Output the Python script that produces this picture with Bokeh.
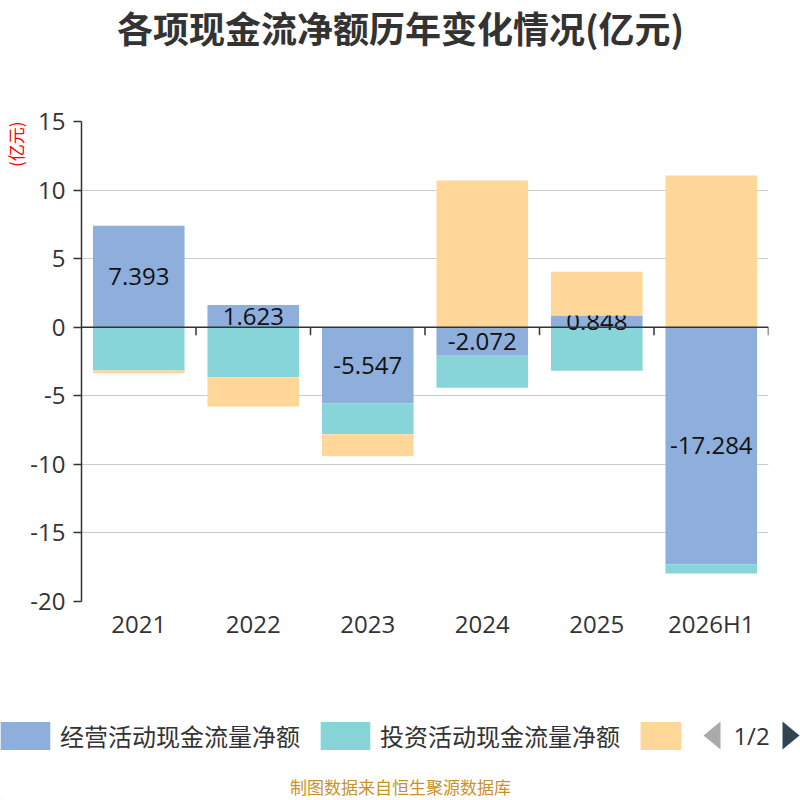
from bokeh.plotting import figure
from bokeh.models import (Range1d, FixedTicker, Label, Span, Legend, LegendItem,
                          ColumnDataSource, Title)
from bokeh.layouts import column
from bokeh.core.properties import value
from bokeh.embed import file_html
from bokeh.resources import INLINE

# ---------------- data ----------------
categories = ["2021", "2022", "2023", "2024", "2025", "2026H1"]
operating = [7.393, 1.623, -5.547, -2.072, 0.848, -17.284]
investing = [-3.16, -3.65, -2.25, -2.34, -3.18, -0.68]
financing = [-0.20, -2.14, -1.62, 10.69, 3.20, 11.06]
series_names = ["经营活动现金流量净额", "投资活动现金流量净额", ""]
y_ticks = [-20, -15, -10, -5, 0, 5, 10, 15]
title_text = "各项现金流净额历年变化情况(亿元)"
unit_text = "(亿元)"
source_text = "制图数据来自恒生聚源数据库"
page_text = "1/2"

colors = ["#8eaedb", "#87d5d8", "#ffd899"]
FONT = "Noto Sans CJK SC"
NUMFONT = "Open Sans"
W = 800
TOP_H, MAIN_H, BOT_H = 60, 630, 110


def blank(h):
    f = figure(width=W, height=h, output_backend="svg", toolbar_location=None,
               x_range=Range1d(0, W), y_range=Range1d(0, h),
               x_axis_type=None, y_axis_type=None, frame_align=False,
               min_border=0, min_border_left=0, min_border_right=0,
               min_border_top=0, min_border_bottom=0)
    f.outline_line_color = None
    f.xgrid.grid_line_color = None
    f.ygrid.grid_line_color = None
    return f


# ---------------- title strip ----------------
top = blank(TOP_H)
top.add_layout(Label(x=W / 2, y=TOP_H - 26, text=title_text, text_align="center",
                     text_baseline="middle", text_font=FONT, text_font_size="36px",
                     text_font_style="bold", text_color="#333333"))

# ---------------- main chart ----------------
p = figure(width=W, height=MAIN_H, output_backend="svg", toolbar_location=None,
           x_range=Range1d(0, len(categories)), y_range=Range1d(-20, 15),
           min_border_left=79, min_border_right=32, min_border_top=61,
           min_border_bottom=89, frame_align=False)
p.outline_line_color = None

p.xgrid.grid_line_color = None
p.ygrid.grid_line_color = "#cccccc"
p.ygrid.grid_line_width = 1.2
p.ygrid.ticker = FixedTicker(ticks=y_ticks)

p.yaxis.ticker = FixedTicker(ticks=y_ticks)
p.yaxis.major_label_overrides = {t: str(t) for t in y_ticks}
p.yaxis.axis_line_color = "#333333"
p.yaxis.axis_line_width = 1.5
p.yaxis.major_tick_line_color = "#333333"
p.yaxis.major_tick_line_width = 1.5
p.yaxis.major_tick_out = 8
p.yaxis.major_tick_in = 0
p.yaxis.minor_tick_line_color = None
p.yaxis.major_label_standoff = 8
p.yaxis.major_label_text_font = NUMFONT
p.yaxis.major_label_text_font_size = "24px"
p.yaxis.major_label_text_color = "#333333"

centers = [i + 0.5 for i in range(len(categories))]
p.xaxis.ticker = FixedTicker(ticks=centers)
p.xaxis.major_label_overrides = {c: cat for c, cat in zip(centers, categories)}
p.xaxis.axis_line_color = None
p.xaxis.major_tick_line_color = None
p.xaxis.major_tick_out = 0
p.xaxis.major_tick_in = 0
p.xaxis.minor_tick_line_color = None
p.xaxis.major_label_standoff = 5
p.xaxis.major_label_text_font = NUMFONT
p.xaxis.major_label_text_font_size = "24px"
p.xaxis.major_label_text_color = "#333333"

p.add_layout(Title(text=unit_text, align="right", text_font=FONT,
                   text_font_size="17px", text_font_style="normal",
                   text_color="#ff0000", standoff=0), "left")

# stacking (positive and negative stacks kept apart)
pos = [0.0] * len(categories)
neg = [0.0] * len(categories)
stacks = []
for vals in (operating, investing, financing):
    bottoms, tops = [], []
    for i, v in enumerate(vals):
        if v >= 0:
            b, t = pos[i], pos[i] + v
            pos[i] = t
        else:
            b, t = neg[i] + v, neg[i]
            neg[i] = b
        bottoms.append(b)
        tops.append(t)
    stacks.append((bottoms, tops))

renderers = []
for k in range(3):
    b, t = stacks[k]
    src = ColumnDataSource(dict(x=centers, bottom=b, top=t))
    r = p.vbar(x="x", width=0.8, bottom="bottom", top="top", source=src,
               fill_color=colors[k], line_color=None)
    renderers.append(r)
    if k == 1:
        b0, t0 = stacks[0]
        lsrc = ColumnDataSource(dict(x=centers,
                                     y=[(bb + tt) / 2 for bb, tt in zip(b0, t0)],
                                     txt=["{:.3f}".format(v) for v in operating]))
        p.text(x="x", y="y", text="txt", source=lsrc, text_align="center",
               text_baseline="middle", text_font=value(NUMFONT),
               text_font_size="24px", text_color="#111111")

p.add_layout(Span(location=0, dimension="width", line_color="#333333", line_width=1.5))
tick_len = 8 * 35 / 480.0
bounds = list(range(1, len(categories) + 1))
p.segment(x0=bounds, x1=bounds, y0=[0] * len(bounds), y1=[-tick_len] * len(bounds),
          line_color="#333333", line_width=1.5)

# ---------------- legend strip ----------------
bot = blank(BOT_H)
ghost = [bot.vbar(x=[-100], width=1, top=[1], fill_color=c, line_color=None) for c in colors]
leg = Legend(items=[LegendItem(label=series_names[0], renderers=[ghost[0]]),
                    LegendItem(label=series_names[1], renderers=[ghost[1]])],
             orientation="horizontal", location=(-6, 47),
             glyph_width=62, glyph_height=35, label_standoff=4, spacing=14,
             padding=0, margin=0, border_line_color=None, background_fill_alpha=0,
             label_text_font=FONT, label_text_font_size="24px",
             label_text_color="#333333", label_height=35)
bot.add_layout(leg)
leg3 = Legend(items=[LegendItem(label=series_names[2], renderers=[ghost[2]])],
              orientation="horizontal", location=(635, 47),
              glyph_width=51, glyph_height=35, label_standoff=0, spacing=0,
              padding=0, margin=0, border_line_color=None, background_fill_alpha=0,
              label_text_font_size="1px", label_height=35, label_width=0)
bot.add_layout(leg3)

# pager arrows and text
bot.patch(x=[720, 703, 720], y=[BOT_H - 31, BOT_H - 45, BOT_H - 59],
          fill_color="#aaaaaa", line_color=None)
bot.patch(x=[782, 799, 782], y=[BOT_H - 31, BOT_H - 45, BOT_H - 59],
          fill_color="#2f4554", line_color=None)
bot.add_layout(Label(x=751, y=BOT_H - 45, text=page_text, text_align="center",
                     text_baseline="middle", text_font=NUMFONT,
                     text_font_size="24px", text_color="#333333"))
bot.add_layout(Label(x=W / 2, y=BOT_H - 96, text=source_text, text_align="center",
                     text_baseline="middle", text_font=FONT,
                     text_font_size="17px", text_color="#c8922a"))

layout = column(top, p, bot, spacing=0)
open("out.html", "w").write(file_html(layout, INLINE))
